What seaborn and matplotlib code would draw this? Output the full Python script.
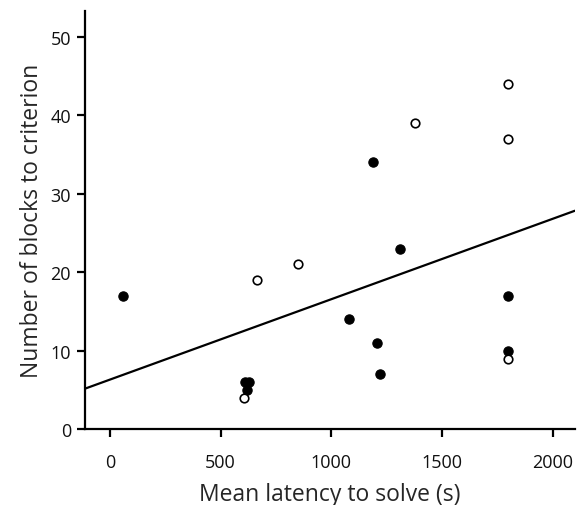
import matplotlib
matplotlib.use("Agg")
import matplotlib.pyplot as plt
import seaborn as sns
import pandas as pd
import numpy as np

# filled circles
filled_latency = [60, 610, 630, 618, 1081, 1206, 1218, 1188, 1311, 1800, 1800]
filled_blocks = [17, 6, 6, 5, 14, 11, 7, 34, 23, 17, 10]
# open circles
open_latency = [607, 663, 850, 1376, 1800, 1800, 1800]
open_blocks = [4, 19, 21, 39, 44, 37, 9]

df = pd.DataFrame({
    "latency": filled_latency + open_latency,
    "blocks": filled_blocks + open_blocks,
    "group": ["filled"] * len(filled_latency) + ["open"] * len(open_latency),
})

sns.set_style("ticks")
plt.rcParams["font.family"] = ["Open Sans", "DejaVu Sans"]

fig = plt.figure(figsize=(5.86, 5.06), dpi=100)
ax = fig.add_axes([0.145, 0.150, 0.836, 0.826])
ax.set_xlim(-113, 2100)
ax.set_ylim(0, 53.3)

# regression line over all points, extended across the axis
sns.regplot(data=df, x="latency", y="blocks", scatter=False, ci=None,
            truncate=False, color="black", line_kws={"linewidth": 1.6}, ax=ax)

sns.scatterplot(data=df[df.group == "filled"], x="latency", y="blocks",
                color="black", edgecolor="black", s=45, linewidth=0.8,
                ax=ax, zorder=3)
sns.scatterplot(data=df[df.group == "open"], x="latency", y="blocks",
                color="white", edgecolor="black", s=38, linewidth=1.2,
                ax=ax, zorder=3)

ax.set_xlim(-113, 2100)
ax.set_ylim(0, 53.3)
ax.set_xticks([0, 500, 1000, 1500, 2000])
ax.set_yticks([0, 10, 20, 30, 40, 50])

sns.despine(ax=ax)
for s in ["left", "bottom"]:
    ax.spines[s].set_linewidth(1.6)
    ax.spines[s].set_color("black")
ax.tick_params(axis="both", length=6, width=1.6, color="black",
               labelsize=13, labelcolor="#111111")
ax.tick_params(axis="x", pad=11)
ax.tick_params(axis="y", pad=4)

ax.set_xlabel("Mean latency to solve (s)", fontsize=16.5, labelpad=8)
ax.set_ylabel("Number of blocks to criterion", fontsize=16.5, labelpad=5)

fig.savefig("out.png", dpi=100)
